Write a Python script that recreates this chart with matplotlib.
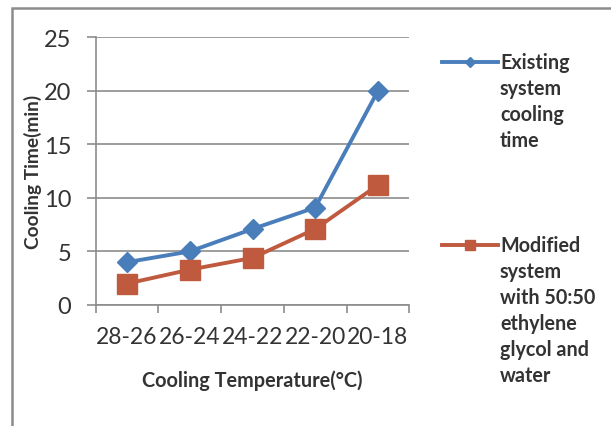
import matplotlib.pyplot as plt
import numpy as np
from matplotlib.lines import Line2D
from matplotlib.patches import Rectangle

temp_ranges = ["28-26", "26-24", "24-22", "22-20", "20-18"]
existing_time = [4, 5, 7.1, 9.1, 20]
modified_time = [2, 3.3, 4.4, 7.1, 11.2]
series_names = [
    ["Existing", "system", "cooling", "time"],
    ["Modified", "system", "with 50:50", "ethylene", "glycol and", "water"],
]

blue = "#4A7EBB"
red = "#BF5A3E"
grey = "#8C8C8C"
txt = "#333333"

W, H = 611, 427
fig = plt.figure(figsize=(W / 100, H / 100), dpi=100)
ax = fig.add_axes([95.7 / W, 1 - 306 / H, (409.3 - 95.7) / W, (306 - 38.3) / H])

x = np.arange(len(temp_ranges)) + 0.5
ax.plot(x, existing_time, color=blue, lw=2.8, marker="D", ms=10,
        markeredgecolor=blue, zorder=3)
ax.plot(x, modified_time, color=red, lw=2.8, marker="s", ms=14,
        markeredgecolor=red, zorder=3)

ax.set_xlim(0, len(temp_ranges))
ax.set_ylim(0, 25)
ax.set_yticks(range(0, 26, 5))
ax.set_xticks(range(len(temp_ranges) + 1))
ax.set_xticklabels([])
ax.set_xticks(x, minor=True)
ax.set_xticklabels(temp_ranges, minor=True, fontsize=16.5, color=txt,
                   family="Lato")
ax.tick_params(axis="x", which="minor", length=0, pad=15)
ax.tick_params(axis="x", which="major", length=6, width=1.2, color=grey,
               direction="out")
ax.tick_params(axis="y", length=6.5, width=1.2, color=grey, pad=11,
               labelsize=17, labelcolor=txt)
for lab in ax.get_yticklabels():
    lab.set_family("Lato")

ax.grid(axis="y", color=grey, lw=1.2)
ax.set_axisbelow(True)
for side in ("top", "right"):
    ax.spines[side].set_visible(False)
for side in ("left", "bottom"):
    ax.spines[side].set_color(grey)
    ax.spines[side].set_linewidth(1.2)

ax.set_ylabel("Cooling Time(min)", fontsize=13.8, fontweight="bold",
              family="Lato", color=txt)
ax.yaxis.set_label_coords(-0.171, 0.5)
ax.set_xlabel("Cooling Temperature(°C)", fontsize=14.3, fontweight="bold",
              family="Lato", color=txt)
ax.xaxis.set_label_coords(0.5, -0.24)

# legend drawn by hand: short line + marker, wrapped text beside it
entries = [(blue, "D", 5, 63), (red, "s", 7, 246)]
for (col, mk, ms, yy), lines in zip(entries, series_names):
    fy = 1 - yy / H
    fig.add_artist(Line2D([442 / W, 498 / W], [fy, fy], color=col, lw=2.8))
    fig.add_artist(Line2D([470 / W], [fy], color=col, marker=mk, ms=ms,
                          markeredgecolor=col))
    for i, line in enumerate(lines):
        fig.text(500 / W, fy - i * 26 / H, line, fontsize=14.2,
                 fontweight="bold", family="Lato", color=txt, va="center")

# chart frame
fig.add_artist(Rectangle((12 / W, -0.1), 1.2, 1 - 9 / H + 0.1,
                         transform=fig.transFigure, fill=False,
                         edgecolor=grey, lw=1.8))

fig.savefig("out.png", dpi=100)
